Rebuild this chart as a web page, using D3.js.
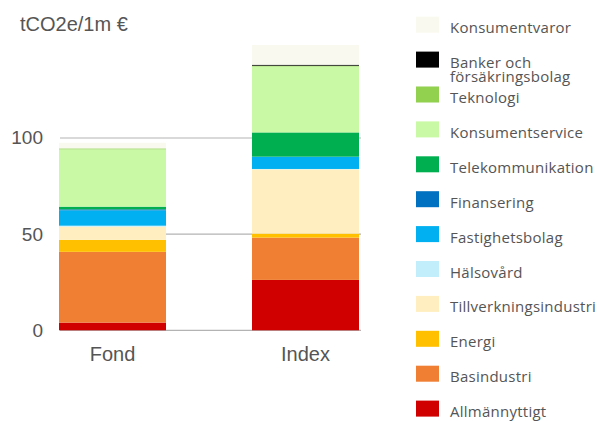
<!DOCTYPE html>
<html>
<head>
<meta charset="utf-8">
<script src="https://cdn.jsdelivr.net/npm/d3@7"></script>
<style>
  body { margin: 0; background: #fff; }
  svg { display: block; }
</style>
</head>
<body>
<svg id="chart" width="598" height="421"></svg>
<script>
var width = 598
var height = 421

// bottom-to-top stack order
var sectors = ["Allmännyttigt", "Basindustri", "Energi", "Tillverkningsindustri", "Hälsovård",
    "Fastighetsbolag", "Finansering", "Telekommunikation", "Konsumentservice", "Teknologi",
    "Banker och försäkringsbolag", "Konsumentvaror"]
var colors = ["#d00000", "#f07f33", "#ffc000", "#ffefc0", "#c2eefc",
    "#00b0f0", "#0070c0", "#00b050", "#c9f9a5", "#92d050", "#000000", "#f9f9ef"]
var categories = ["Fond", "Index"]
var fondValues = [4.0, 36.8, 6.2, 6.9, 0.5, 8.0, 0.5, 1.4, 29.8, 0.5, 0, 2.9]
var indexValues = [26.2, 22.0, 2.1, 33.4, 0.2, 6.4, 0, 12.6, 34.3, 0.4, 0.5, 10.2]
var yTicks = [0, 50, 100]

var svg = d3.select("#chart")

// rader till stacken
var rows = categories.map(function (c, i) {
    var vals = i == 0 ? fondValues : indexValues
    var row = { cat: c }
    sectors.forEach(function (s, j) { row[s] = vals[j] })
    return row
})
var series = d3.stack().keys(sectors)(rows)

var barW = 107
var xScale = d3.scalePoint().domain(categories).range([59, 252])

var yScale = d3.scaleLinear()
    .domain([0, 100])
    .range([330.3, 138])

var color = d3.scaleOrdinal().domain(sectors).range(colors)

// grid lines
svg.append("g")
    .selectAll("line")
    .data(yTicks)
    .enter()
    .append("line")
    .attr("x1", 60)
    .attr("x2", 361)
    .attr("y1", function (d) { return yScale(d) })
    .attr("y2", function (d) { return yScale(d) })
    .attr("stroke", "#b3b3b3")
    .attr("stroke-width", 1.2)

// bars
svg.append("g")
    .selectAll("g")
    .data(series)
    .enter()
    .append("g")
    .attr("fill", function (d) { return color(d.key) })
    .selectAll("rect")
    .data(function (d) { return d })
    .enter()
    .append("rect")
    .attr("x", function (d) { return xScale(d.data.cat) })
    .attr("width", barW)
    .attr("y", function (d) { return yScale(d[1]) })
    .attr("height", function (d) { return yScale(d[0]) - yScale(d[1]) })

// y axis labels
svg.append("g")
    .selectAll("text")
    .data(yTicks)
    .enter()
    .append("text")
    .attr("x", 43)
    .attr("y", function (d) { return yScale(d) })
    .attr("dy", "0.34em")
    .attr("text-anchor", "end")
    .attr("font-family", "Liberation Sans, Arial, sans-serif")
    .attr("font-size", 19)
    .attr("fill", "#555")
    .text(function (d) { return d })

// title
svg.append("text")
    .attr("x", 20)
    .attr("y", 31)
    .attr("font-family", "Liberation Sans, Arial, sans-serif")
    .attr("font-size", 20)
    .attr("fill", "#555")
    .text("tCO2e/1m €")

// category labels
svg.append("g")
    .selectAll("text")
    .data(categories)
    .enter()
    .append("text")
    .attr("x", function (d) { return xScale(d) + barW / 2 })
    .attr("y", 361)
    .attr("text-anchor", "middle")
    .attr("font-family", "Liberation Sans, Arial, sans-serif")
    .attr("font-size", 20)
    .attr("fill", "#555")
    .text(function (d) { return d })

// legend (top to bottom = reverse stack order)
var legendItems = sectors.slice().reverse()
var legendLabels = {
    "Banker och försäkringsbolag": ["Banker och", "försäkringsbolag"]
}
var legend = svg.append("g")
    .selectAll("g")
    .data(legendItems)
    .enter()
    .append("g")
    .attr("transform", function (d, i) { return "translate(416," + (16.7 + i * 34.9) + ")" })

legend.append("rect")
    .attr("width", 23)
    .attr("height", 16)
    .attr("fill", function (d) { return color(d) })

legend.append("text")
    .attr("x", 34)
    .attr("y", function (d) { return legendLabels[d] ? 16.0 : 16.6 })
    .attr("font-family", "Open Sans, sans-serif")
    .attr("font-size", 15)
    .attr("letter-spacing", 0.25)
    .attr("fill", "#555")
    .selectAll("tspan")
    .data(function (d) { return legendLabels[d] || [d] })
    .enter()
    .append("tspan")
    .attr("x", 34)
    .attr("dy", function (d, i) { return i == 0 ? 0 : 14.6 })
    .text(function (d) { return d })
</script>
</body>
</html>
